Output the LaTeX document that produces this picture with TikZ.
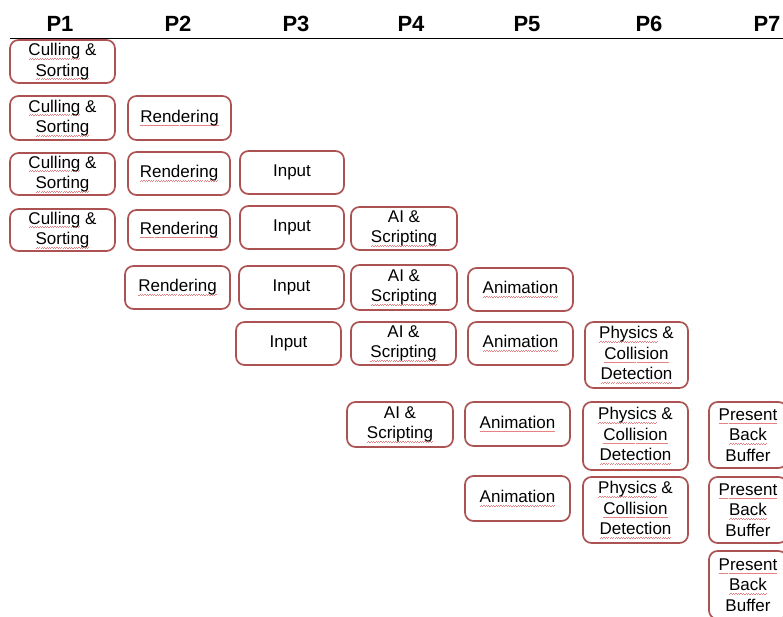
\documentclass[tikz,border=0pt]{standalone}
\usepackage{fontspec}
\setmainfont{Liberation Sans}
\definecolor{boxred}{RGB}{172,82,82}
\definecolor{sqred}{RGB}{232,130,130}
\newsavebox\sqbox
\newcommand\squnit{\hbox to 2.4pt{\rule[-3.4pt]{1.2pt}{0.45pt}\rule[-2.8pt]{1.2pt}{0.45pt}}}
\newcommand\sq[1]{\leavevmode\sbox\sqbox{#1}\rlap{\textcolor{sqred}{\hbox to \wd\sqbox{\xleaders\squnit\hfill}}}\usebox\sqbox}
\tikzset{
  box/.style={draw=boxred, line width=1.7pt, rounded corners=8.5pt, fill=white,
    align=center, inner sep=0pt, font=\fontsize{17}{20.5}\selectfont},
  hdr/.style={anchor=base, inner sep=0pt, font=\fontsize{22}{26}\bfseries\selectfont}
}
\newcommand\bx[6]{\node[box, minimum width=#4pt, minimum height=#5pt] (#1) at (#2,#3) {#6};}
\newcommand\cull{\sq{Culling} \&\\\sq{Sorting}}
\newcommand\rend{\sq{Rendering}}
\newcommand\inp{Input}
\newcommand\ais{AI \&\\\sq{Scripting}}
\newcommand\anim{\sq{Animation}}
\newcommand\phys{\sq{Physics} \&\\\sq{Collision}\\\sq{Detection}}
\newcommand\pres{\sq{Present}\\\sq{Back}\\Buffer}
\begin{document}
\begin{tikzpicture}[x=1pt,y=-1pt]
\clip (0,0) rectangle (783,617);
\fill[white] (0,0) rectangle (783,617);
% headers
\node[hdr] (p1) at (60,32) {P1};
\node[hdr] (p2) at (178,32) {P2};
\node[hdr] (p3) at (296,32) {P3};
\node[hdr] (p4) at (411,32) {P4};
\node[hdr] (p5) at (527,32) {P5};
\node[hdr] (p6) at (649,32) {P6};
\node[hdr] (p7) at (767,32) {P7};
\coordinate (l0) at (10,39);
\coordinate (l1) at (783,39);
\draw[line width=1pt] (l0) -- (l1);
% column 1
\bx{c1r1}{62.5}{61.5}{105}{43}{\cull}
\bx{c1r2}{62.5}{118}{105}{44}{\cull}
\bx{c1r3}{62.5}{174}{105}{42}{\cull}
\bx{c1r4}{62.5}{230}{105}{42}{\cull}
% column 2
\bx{c2r2}{179.5}{118}{103}{44}{\rend}
\bx{c2r3}{179}{173.5}{102}{43}{\rend}
\bx{c2r4}{179}{230}{102}{40}{\rend}
\bx{c2r5}{177.5}{287.5}{105}{43}{\rend}
% column 3
\bx{c3r3}{292}{172.5}{104}{43}{\inp}
\bx{c3r4}{292}{227.5}{104}{43}{\inp}
\bx{c3r5}{291.5}{287.5}{105}{43}{\inp}
\bx{c3r6}{288.5}{343.5}{105}{43}{\inp}
% column 4
\bx{c4r4}{404}{228.5}{106}{43}{\ais}
\bx{c4r5}{404}{287.5}{106}{45}{\ais}
\bx{c4r6}{403.5}{343.5}{105}{43}{\ais}
\bx{c4r7}{400}{424.5}{106}{45}{\ais}
% column 5
\bx{c5r5}{520.5}{289.5}{105}{43}{\anim}
\bx{c5r6}{520.5}{343.5}{105}{43}{\anim}
\bx{c5r7}{517.5}{424}{105}{44}{\anim}
\bx{c5r8}{517.5}{498.5}{105}{45}{\anim}
% column 6
\bx{c6r6}{636.5}{355}{103}{66}{\phys}
\bx{c6r7}{635.5}{436}{105}{68}{\phys}
\bx{c6r8}{635.5}{510}{105}{66}{\phys}
% column 7
\bx{c7r7}{748}{435}{78}{66}{\pres}
\bx{c7r8}{748}{510}{78}{66}{\pres}
\bx{c7r9}{748}{585}{78}{68}{\pres}
\end{tikzpicture}
\end{document}
